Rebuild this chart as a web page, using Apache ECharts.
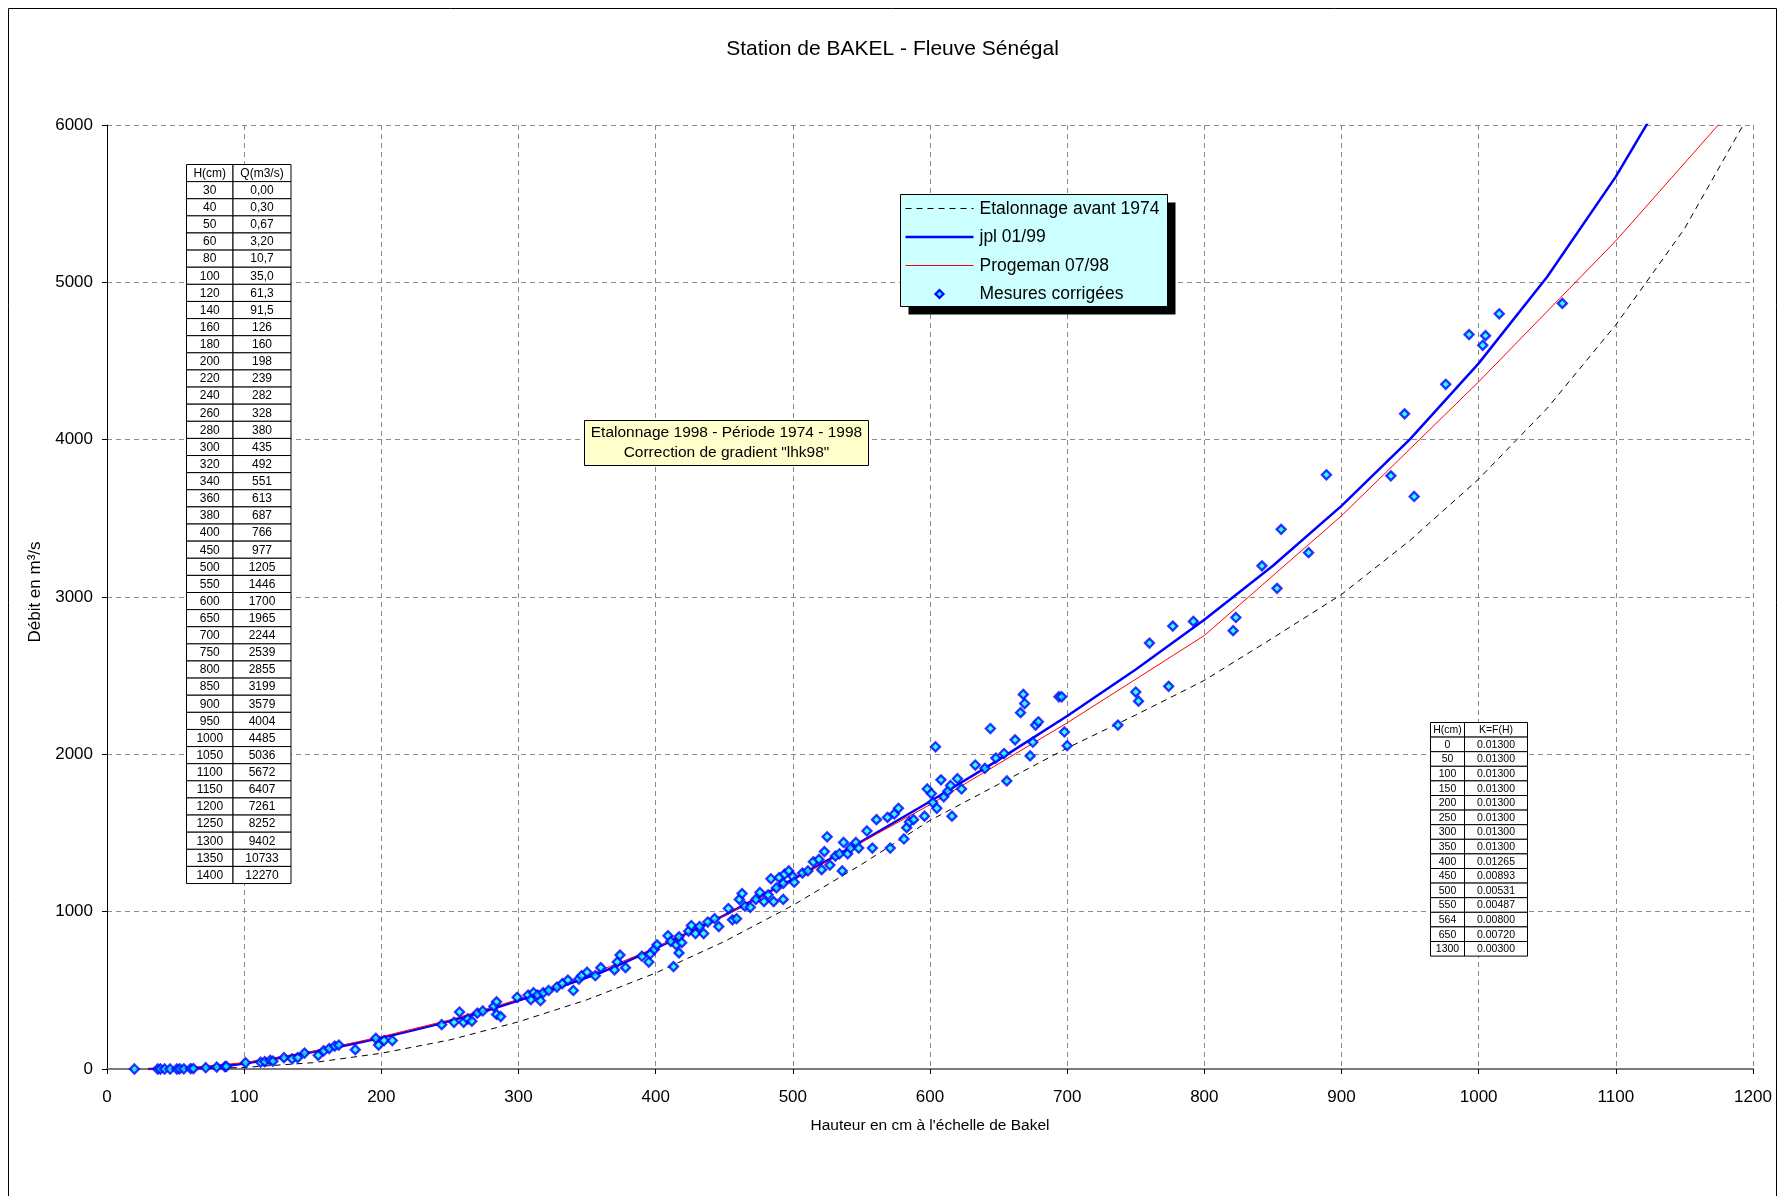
<!DOCTYPE html>
<html>
<head>
<meta charset="utf-8">
<title>Station de BAKEL - Fleuve Sénégal</title>
<script src="https://cdn.jsdelivr.net/npm/echarts@6/dist/echarts.min.js"></script>
<style>
  html, body { margin: 0; padding: 0; background: #fff; }
  #chart { width: 1785px; height: 1196px; }
</style>
</head>
<body>
<div id="chart"></div>
<script>
const FONT = '"Liberation Sans", Arial, Helvetica, sans-serif';

// Rating table jpl 01/99 : stage H (cm) -> discharge Q (m3/s), French decimal notation
const tableH = [30, 40, 50, 60, 80, 100, 120, 140, 160, 180, 200, 220, 240, 260, 280, 300, 320, 340, 360, 380, 400,
  450, 500, 550, 600, 650, 700, 750, 800, 850, 900, 950, 1000, 1050, 1100, 1150, 1200, 1250, 1300, 1350, 1400];
const tableQ = ['0,00', '0,30', '0,67', '3,20', '10,7', '35,0', '61,3', '91,5', '126', '160', '198', '239', '282', '328',
  '380', '435', '492', '551', '613', '687', '766', '977', '1205', '1446', '1700', '1965', '2244', '2539', '2855', '3199',
  '3579', '4004', '4485', '5036', '5672', '6407', '7261', '8252', '9402', '10733', '12270'];

// Progeman 07/98 rating curve
const progemanH = [30, 50, 100, 150, 200, 250, 300, 350, 400, 450, 500, 600, 700, 800, 900, 1000, 1100, 1200];
const progemanQ = [0, 2, 40, 112, 205, 312, 442, 592, 770, 975, 1200, 1680, 2200, 2755, 3516, 4368, 5264, 6250];

// Rating curve in use before 1974
const avant74H = [50, 100, 150, 200, 250, 300, 350, 400, 450, 500, 550, 600, 650, 700, 750, 800, 850, 900, 950, 1000, 1050, 1100, 1150, 1200];
const avant74Q = [0, 10, 40, 100, 185, 300, 440, 610, 810, 1040, 1300, 1580, 1810, 2040, 2250, 2470, 2740, 3016, 3360, 3750, 4200, 4730, 5340, 6110];

// Corrected gauging measurements
const mesH = [20, 37, 39, 42, 46, 51, 53, 56, 61, 63, 72, 80, 86, 87,
  101, 112, 115, 119, 121, 129, 135, 139, 144, 154, 158, 162, 166, 169, 181, 196, 198, 202, 208,
  244, 253, 257, 260, 263, 266, 270, 274, 282, 284, 284, 287,
  299, 307, 309, 311, 314, 316, 318, 322, 328, 332, 336, 340, 344, 346, 350, 356, 360, 370, 372, 374, 378,
  390, 395, 396, 399, 401, 409, 411, 413, 415, 417, 417, 419, 424, 426, 429, 432, 435, 438, 443, 446, 453, 456, 459,
  461, 463, 465, 469, 473, 476, 479, 482, 484, 486, 488, 490, 493, 494, 497, 500, 501, 493,
  507, 511, 515, 519, 521, 523, 525, 527, 531, 534, 536, 537, 540, 542, 546, 548, 554, 558, 561, 569, 571, 574, 577,
  581, 583, 585, 588, 596, 598, 601, 602, 604, 605,
  608, 610, 613, 615, 616, 620, 623, 633, 640, 644, 648, 654, 656, 662, 666, 668, 669, 673, 675, 677, 679, 694, 696, 698, 700,
  737, 750, 752, 760, 774, 777, 792,
  821, 823, 842, 853, 856, 876, 889, 936, 946, 953, 976, 993, 1003, 1005, 1015, 1061];
const mesQ = [0, 0, 0, 0, 0, 0, 1, 1, 3, 3, 8, 12, 15, 17,
  40, 43, 47, 55, 50, 72, 65, 72, 101, 87, 116, 130, 145, 152, 123, 195, 152, 181, 181,
  282, 297, 362, 297, 318, 304, 355, 369, 398, 427, 347, 333,
  456, 470, 441, 485, 470, 434, 485, 499, 521, 543, 565, 499, 572, 593, 615, 593, 644, 630, 680, 724, 644,
  717, 680, 731, 760, 789, 847, 811, 651, 789, 840, 738, 803, 876, 912, 861, 905, 861, 934, 955, 905, 1020, 948, 955,
  1078, 1115, 1035, 1028, 1078, 1122, 1064, 1107, 1209, 1064, 1151, 1216, 1180, 1238, 1259, 1223, 1187, 1078,
  1245, 1259, 1317, 1332, 1267, 1382, 1476, 1296, 1353, 1368, 1259, 1440, 1368, 1404, 1440, 1404, 1513, 1404, 1585, 1599, 1404, 1621, 1657,
  1462, 1534, 1570, 1585, 1607, 1780, 1751, 1694, 2048, 1657,
  1838, 1730, 1766, 1802, 1607, 1845, 1780, 1932, 1911, 2164, 1976, 2005, 1831, 2092, 2265, 2381, 2323, 1990, 2077, 2186, 2207, 2366, 2366, 2142, 2055,
  2186, 2396, 2338, 2707, 2432, 2815, 2845,
  2786, 2870, 3198, 3055, 3430, 3282, 3777, 3770, 4164, 3639, 4352, 4668, 4600, 4661, 4800, 4866];

// Gradient correction table "lhk98"
const gradH = [0, 50, 100, 150, 200, 250, 300, 350, 400, 450, 500, 550, 564, 650, 1300];
const gradK = ['0.01300', '0.01300', '0.01300', '0.01300', '0.01300', '0.01300', '0.01300', '0.01300',
  '0.01265', '0.00893', '0.00531', '0.00487', '0.00800', '0.00720', '0.00300'];

const legendNames = ['Etalonnage avant 1974', 'jpl 01/99', 'Progeman 07/98', 'Mesures corrigées'];

const toNum = s => parseFloat(String(s).replace(',', '.'));
const zip = (xs, ys) => xs.map((x, i) => [x, toNum(ys[i])]);

const COL_BLUE = '#0000FF';
const COL_CYAN = '#00FFFF';
const COL_RED = '#FF0000';
const DASH_CURVE = [6, 5];

function textEl(x, y, txt, size, z, align) {
  return {
    type: 'text', x: x, y: y, z: z, silent: true,
    style: {
      text: txt, fill: '#000', font: size + 'px ' + FONT,
      align: align || 'center', verticalAlign: 'middle',
      textAlign: align || 'center', textVerticalAlign: 'middle'
    }
  };
}

// Small bordered table drawn as graphic cells
function buildTable(left, top, colW, rowH, header, col1, col2, fontSize) {
  const children = [];
  const rows = [header].concat(col1.map((v, i) => [String(v), col2[i]]));
  rows.forEach((r, i) => {
    const y = top + i * rowH;
    let cx = left;
    r.forEach((txt, j) => {
      children.push({
        type: 'rect', z: 20, silent: true,
        shape: { x: cx, y: y, width: colW[j], height: rowH },
        style: { fill: '#fff', stroke: '#000', lineWidth: 1 }
      });
      children.push(textEl(cx + colW[j] / 2, y + rowH / 2 + 0.5, txt, fontSize, 21));
      cx += colW[j];
    });
  });
  return { type: 'group', z: 20, children: children };
}

// Legend box with hard drop shadow
function buildLegend(left, top, w, h) {
  const rowY = [top + 14, top + 42.5, top + 71, top + 99.5];
  const x0 = left + 5, x1 = left + 73;
  const cx = (x0 + x1) / 2, r = 4;
  const children = [
    { type: 'rect', z: 20, silent: true, shape: { x: left + 8, y: top + 8, width: w, height: h }, style: { fill: '#000' } },
    { type: 'rect', z: 21, silent: true, shape: { x: left, y: top, width: w, height: h }, style: { fill: '#CCFFFF', stroke: '#000', lineWidth: 1 } },
    { type: 'line', z: 22, silent: true, shape: { x1: x0, y1: rowY[0], x2: x1, y2: rowY[0] }, style: { stroke: '#000', lineWidth: 1, lineDash: DASH_CURVE } },
    { type: 'line', z: 22, silent: true, shape: { x1: x0, y1: rowY[1], x2: x1, y2: rowY[1] }, style: { stroke: COL_BLUE, lineWidth: 2.5 } },
    { type: 'line', z: 22, silent: true, shape: { x1: x0, y1: rowY[2], x2: x1, y2: rowY[2] }, style: { stroke: COL_RED, lineWidth: 1 } },
    {
      type: 'polygon', z: 22, silent: true,
      shape: { points: [[cx, rowY[3] - r], [cx + r, rowY[3]], [cx, rowY[3] + r], [cx - r, rowY[3]]] },
      style: { fill: COL_CYAN, stroke: COL_BLUE, lineWidth: 2.2 }
    }
  ];
  legendNames.forEach((n, i) => children.push(textEl(left + 79, rowY[i] + 0.5, n, 17.5, 22, 'left')));
  return { type: 'group', z: 20, children: children };
}

const chart = echarts.init(document.getElementById('chart'), null, { renderer: 'canvas' });

const gridDash = { color: '#8a8a8a', width: 1, type: [5, 4] };
const plainNumber = v => String(v);

const option = {
  backgroundColor: '#fff',
  animation: false,
  textStyle: { fontFamily: FONT },
  title: {
    text: 'Station de BAKEL - Fleuve Sénégal',
    left: 'center',
    top: 34,
    textStyle: { fontSize: 21, fontWeight: 'normal', color: '#000', fontFamily: FONT }
  },
  grid: { left: 107, right: 32, top: 125, bottom: 127, containLabel: false },
  xAxis: {
    type: 'value',
    min: 0, max: 1200, interval: 100,
    name: "Hauteur en cm à l'échelle de Bakel",
    nameLocation: 'middle',
    nameGap: 49,
    nameTextStyle: { fontSize: 15.5, color: '#000', fontFamily: FONT },
    axisLine: { show: true, onZero: true, lineStyle: { color: '#7a7a7a', width: 2 } },
    axisTick: { show: true, inside: false, length: 5, lineStyle: { color: '#000', width: 1 } },
    axisLabel: { fontSize: 17, color: '#000', margin: 20, fontFamily: FONT, formatter: plainNumber },
    splitLine: { show: true, lineStyle: gridDash }
  },
  yAxis: {
    type: 'value',
    min: 0, max: 6000, interval: 1000,
    name: 'Débit en m³/s',
    nameLocation: 'middle',
    nameGap: 53,
    nameTextStyle: { fontSize: 17, color: '#000', fontFamily: FONT, padding: [0, 0, 0, 10] },
    axisLine: { show: true, lineStyle: { color: '#000', width: 1 } },
    axisTick: { show: true, inside: false, length: 5, lineStyle: { color: '#000', width: 1 } },
    axisLabel: { fontSize: 17, color: '#000', margin: 14, fontFamily: FONT, formatter: plainNumber },
    splitLine: { show: true, lineStyle: gridDash }
  },
  series: [
    {
      name: legendNames[0],
      type: 'line',
      data: zip(avant74H, avant74Q),
      symbol: 'none',
      clip: true,
      z: 3,
      lineStyle: { color: '#000', width: 1, type: DASH_CURVE },
      itemStyle: { color: '#000' }
    },
    {
      name: legendNames[1],
      type: 'line',
      data: zip(tableH, tableQ),
      symbol: 'none',
      clip: true,
      z: 4,
      lineStyle: { color: COL_BLUE, width: 2.5 },
      itemStyle: { color: COL_BLUE }
    },
    {
      name: legendNames[2],
      type: 'line',
      data: zip(progemanH, progemanQ),
      symbol: 'none',
      clip: true,
      z: 5,
      lineStyle: { color: COL_RED, width: 1 },
      itemStyle: { color: COL_RED }
    },
    {
      name: legendNames[3],
      type: 'scatter',
      data: zip(mesH, mesQ),
      symbol: 'diamond',
      symbolSize: 9,
      z: 6,
      itemStyle: { color: COL_CYAN, borderColor: COL_BLUE, borderWidth: 2.3 }
    }
  ],
  graphic: [
    {
      type: 'rect', z: 0, silent: true,
      shape: { x: 8.5, y: 8.5, width: 1768, height: 1200 },
      style: { fill: 'none', stroke: '#000', lineWidth: 1 }
    },
    buildLegend(900.5, 194.5, 267, 112),
    {
      type: 'group', z: 20,
      children: [
        {
          type: 'rect', z: 20, silent: true,
          shape: { x: 584.5, y: 420.5, width: 284, height: 45 },
          style: { fill: '#FFFFCC', stroke: '#000', lineWidth: 1 }
        },
        textEl(726.5, 433, 'Etalonnage 1998 - Période 1974 - 1998', 15.5, 21),
        textEl(726.5, 453, 'Correction de gradient "lhk98"', 15.5, 21)
      ]
    },
    buildTable(186.5, 164.5, [46.5, 58], 17.12, ['H(cm)', 'Q(m3/s)'], tableH, tableQ, 12),
    buildTable(1430.5, 722.5, [34, 63], 14.6, ['H(cm)', 'K=F(H)'], gradH, gradK, 10.5)
  ]
};

chart.setOption(option);
</script>
</body>
</html>
